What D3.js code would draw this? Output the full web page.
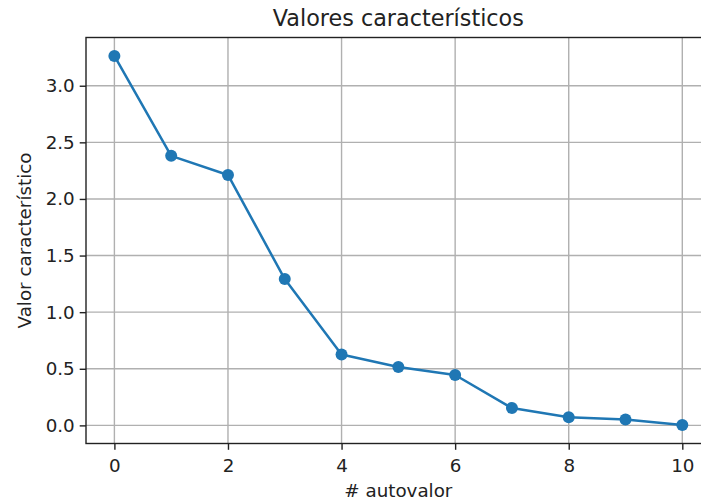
<!DOCTYPE html>
<html>
<head>
<meta charset="utf-8">
<script src="https://cdn.jsdelivr.net/npm/d3@7"></script>
<style>
  body { margin: 0; background: #fff; }
  svg { display: block; font-family: "DejaVu Sans", sans-serif; }
</style>
</head>
<body>
<div id="chart"></div>
<script>
const indices = [0, 1, 2, 3, 4, 5, 6, 7, 8, 9, 10];
const eigenvalues = [3.263, 2.381, 2.212, 1.292, 0.626, 0.516, 0.445, 0.153, 0.071, 0.053, 0.003];
const xTicks = [0, 2, 4, 6, 8, 10];
const yTicks = [0, 0.5, 1.0, 1.5, 2.0, 2.5, 3.0];

const W = 701, H = 502;
// axes box (right edge falls outside the picture, as in the original)
const box = { left: 86, right: 710.7, top: 37.5, bottom: 443.5 };
const blue = "#1f77b4";

const svg = d3.select("#chart").append("svg")
  .attr("width", W)
  .attr("height", H);

// matplotlib-style 5% margins
const xExt = d3.extent(indices), yExt = d3.extent(eigenvalues);
const xPad = (xExt[1] - xExt[0]) * 0.05, yPad = (yExt[1] - yExt[0]) * 0.05;

const x = d3.scaleLinear().domain([xExt[0] - xPad, xExt[1] + xPad]).range([box.left, box.right]);
const y = d3.scaleLinear().domain([yExt[0] - yPad, yExt[1] + yPad]).range([box.bottom, box.top]);

/* grid */
const grid = svg.append("g").attr("stroke", "#b0b0b0").attr("stroke-width", 1.4);
grid.selectAll(".gx").data(xTicks).join("line")
  .attr("x1", d => x(d)).attr("x2", d => x(d))
  .attr("y1", box.top).attr("y2", box.bottom);
grid.selectAll(".gy").data(yTicks).join("line")
  .attr("x1", box.left).attr("x2", box.right)
  .attr("y1", d => y(d)).attr("y2", d => y(d));

/* line + markers */
const line = d3.line().x((d, i) => x(indices[i])).y(d => y(d));
svg.append("path")
  .datum(eigenvalues)
  .attr("fill", "none")
  .attr("stroke", blue)
  .attr("stroke-width", 2.5)
  .attr("stroke-linejoin", "round")
  .attr("d", line);

svg.selectAll(".dot").data(eigenvalues).join("circle")
  .attr("cx", (d, i) => x(indices[i]))
  .attr("cy", d => y(d))
  .attr("r", 6)
  .attr("fill", blue);

/* axes */
const xAxis = d3.axisBottom(x).tickValues(xTicks).tickFormat(d3.format("d"))
  .tickSizeInner(6.3).tickSizeOuter(0).tickPadding(5);
const yAxis = d3.axisLeft(y).tickValues(yTicks).tickFormat(d3.format(".1f"))
  .tickSizeInner(6.3).tickSizeOuter(0).tickPadding(5);

const gx = svg.append("g").attr("transform", `translate(0,${box.bottom})`).call(xAxis);
const gy = svg.append("g").attr("transform", `translate(${box.left},0)`).call(yAxis);
[gx, gy].forEach(g => {
  g.select(".domain").remove();
  g.selectAll(".tick line").attr("stroke", "#222").attr("stroke-width", 1.4);
  g.selectAll(".tick text")
    .attr("fill", "#222")
    .style("font-family", "DejaVu Sans")
    .style("font-size", "18.3px");
});
gx.selectAll(".tick text").attr("dy", "0.95em");

/* spines */
svg.append("rect")
  .attr("x", box.left).attr("y", box.top)
  .attr("width", box.right - box.left).attr("height", box.bottom - box.top)
  .attr("fill", "none")
  .attr("stroke", "#222")
  .attr("stroke-width", 1.4);

/* titles */
svg.append("text")
  .attr("x", (box.left + box.right) / 2).attr("y", 26)
  .attr("text-anchor", "middle")
  .attr("fill", "#222")
  .style("font-size", "22.3px")
  .text("Valores característicos");

svg.append("text")
  .attr("x", (box.left + box.right) / 2).attr("y", 497)
  .attr("text-anchor", "middle")
  .attr("fill", "#222")
  .style("font-size", "18.3px")
  .text("# autovalor");

svg.append("text")
  .attr("transform", `translate(31,${(box.top + box.bottom) / 2}) rotate(-90)`)
  .attr("text-anchor", "middle")
  .attr("fill", "#222")
  .style("font-size", "18.3px")
  .text("Valor característico");
</script>
</body>
</html>
